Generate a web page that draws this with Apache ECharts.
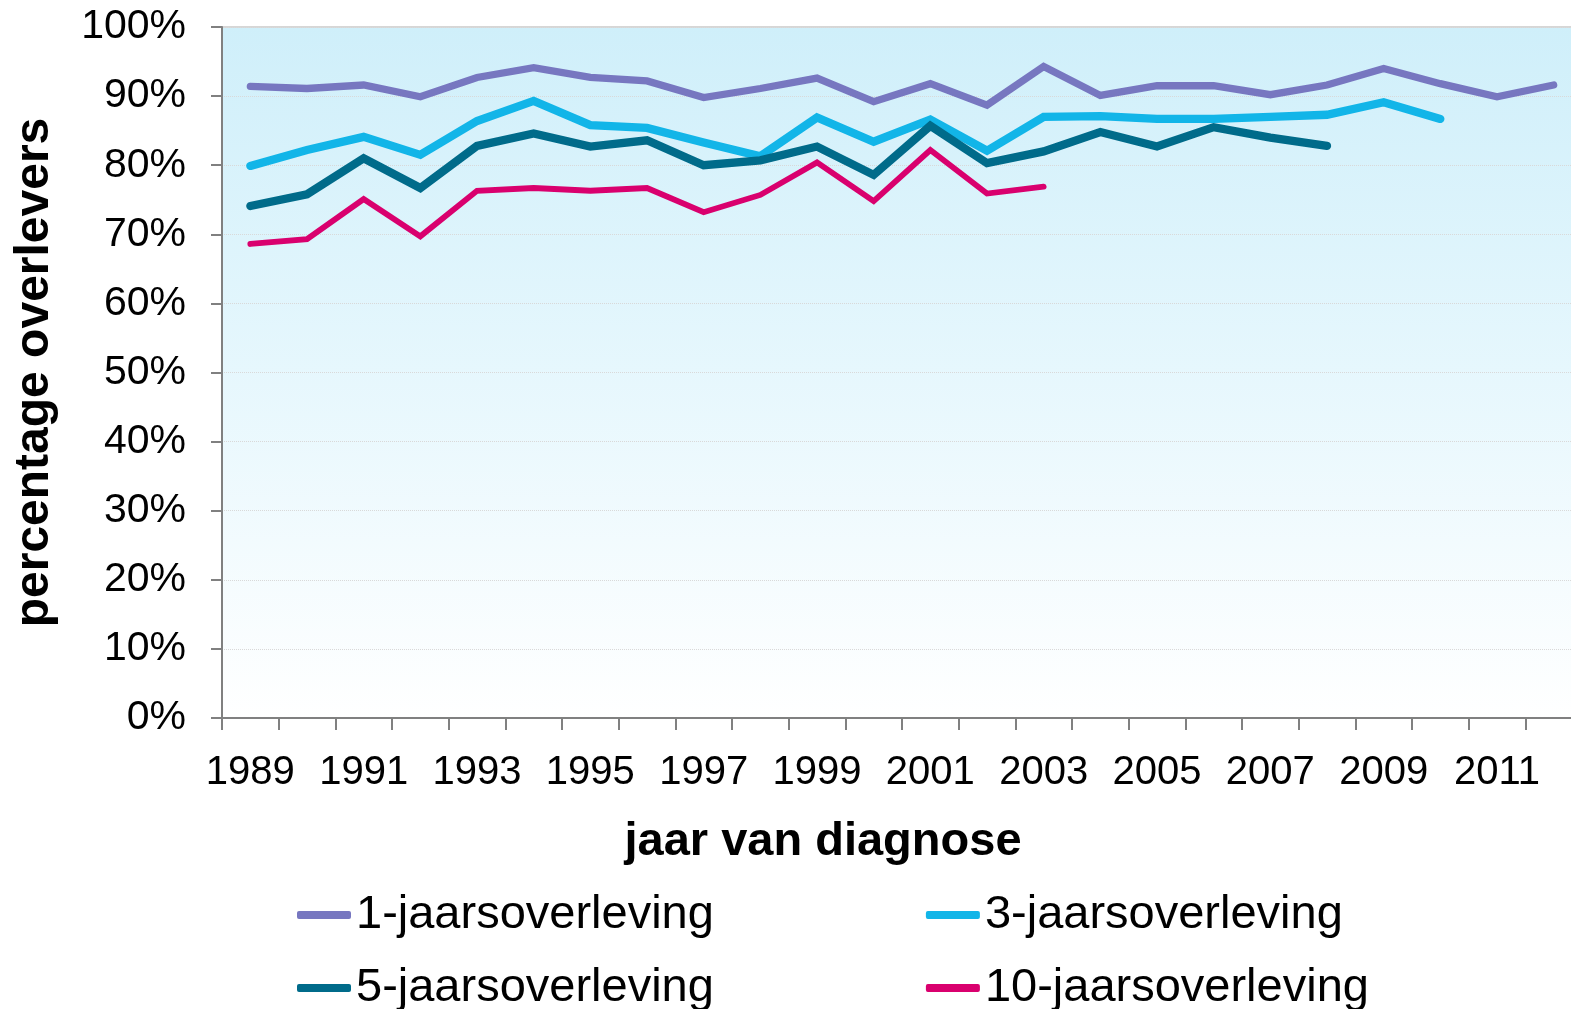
<!DOCTYPE html>
<html>
<head>
<meta charset="utf-8">
<script src="https://cdn.jsdelivr.net/npm/echarts@6/dist/echarts.min.js"></script>
<style>
html,body{margin:0;padding:0;background:#fff;}
#c{width:1571px;height:1009px;}
</style>
</head>
<body>
<div id="c"></div>
<script>
var years = ['1989','1990','1991','1992','1993','1994','1995','1996','1997','1998','1999','2000','2001','2002','2003','2004','2005','2006','2007','2008','2009','2010','2011','2012'];
var yTicks = [0,10,20,30,40,50,60,70,80,90,100];
var surv1 = [91.4,91.1,91.6,89.9,92.7,94.1,92.7,92.2,89.8,91.1,92.6,89.2,91.8,88.7,94.3,90.1,91.5,91.5,90.2,91.6,94.0,91.8,89.9,91.6];
var surv3 = [79.9,82.2,84.1,81.5,86.4,89.3,85.8,85.4,83.3,81.3,86.9,83.4,86.6,82.1,87.0,87.1,86.7,86.7,87.0,87.3,89.1,86.7,null,null];
var surv5 = [74.1,75.8,81.0,76.7,82.8,84.6,82.7,83.6,80.0,80.7,82.7,78.6,85.7,80.3,82.0,84.8,82.7,85.5,84.0,82.8,null,null,null,null];
var surv10 = [68.6,69.3,75.1,69.7,76.3,76.7,76.3,76.7,73.2,75.7,80.4,74.8,82.2,75.9,76.9,null,null,null,null,null,null,null,null,null];
var names = ['1-jaarsoverleving','3-jaarsoverleving','5-jaarsoverleving','10-jaarsoverleving'];
var colors = ['#7777c0','#12b5e8','#006b8a','#d9006e'];
var widths = [7.3,8.3,8.3,5.8];

var chart = echarts.init(document.getElementById('c'));
var font = 'Liberation Sans, Arial, sans-serif';
var dataSets = [surv1, surv3, surv5, surv10];
var series = dataSets.map(function(d, i){
  return {
    name: names[i], type: 'line', data: d, showSymbol: false, symbol: 'none',
    connectNulls: false, animation: false,
    lineStyle: {color: colors[i], width: widths[i], cap: 'round', join: 'miter'},
    itemStyle: {color: colors[i]}
  };
});
var legendText = {fontFamily: font, fontSize: 47, color: '#000', lineHeight: 48};
chart.setOption({
  animation: false,
  grid: {
    left: 222, top: 27, right: -11, bottom: 291, show: true,
    outerBoundsMode: 'none', containLabel: false,
    borderColor: '#d6d6d6', borderWidth: 2,
    backgroundColor: new echarts.graphic.LinearGradient(0,0,0,1,[
      {offset:0, color:'#cfeffa'},
      {offset:0.5, color:'#e6f7fd'},
      {offset:1, color:'#ffffff'}
    ])
  },
  legend: [
    {data: [names[0], names[1]], left: 297, top: 891, orient: 'horizontal', itemGap: 212,
     itemWidth: 54, itemHeight: 8, icon: 'roundRect', textStyle: legendText, padding: 0},
    {data: [names[2], names[3]], left: 297, top: 964, orient: 'horizontal', itemGap: 212,
     itemWidth: 54, itemHeight: 8, icon: 'roundRect', textStyle: legendText, padding: 0}
  ],
  xAxis: {
    type: 'category', data: years, boundaryGap: true,
    name: 'jaar van diagnose', nameLocation: 'middle', nameGap: 101,
    nameTextStyle: {fontFamily: font, fontSize: 47, fontWeight: 'bold', color: '#000', padding: [0,158,0,0]},
    axisLine: {lineStyle: {color: '#808080', width: 2}},
    axisTick: {show: true, interval: 0, length: 12, lineStyle: {color: '#808080', width: 2}},
    axisLabel: {interval: 1, margin: 35, fontFamily: font, fontSize: 40, color: '#000'},
    splitLine: {show: false}
  },
  yAxis: {
    type: 'value', min: 0, max: 100, interval: 10,
    name: 'percentage overlevers', nameLocation: 'middle', nameGap: 163, nameRotate: 90,
    nameTextStyle: {fontFamily: font, fontSize: 48, fontWeight: 'bold', color: '#000'},
    axisLine: {show: true, lineStyle: {color: '#808080', width: 2}},
    axisTick: {show: true, length: 11, lineStyle: {color: '#808080', width: 2}},
    axisLabel: {margin: 36, fontFamily: font, fontSize: 41, color: '#000',
      formatter: function(v){ return yTicks.indexOf(v) >= 0 ? v + '%' : ''; }},
    splitLine: {show: true, lineStyle: {color: '#d9d9d9', width: 1, type: 'dotted'}}
  },
  series: series
});
</script>
</body>
</html>
